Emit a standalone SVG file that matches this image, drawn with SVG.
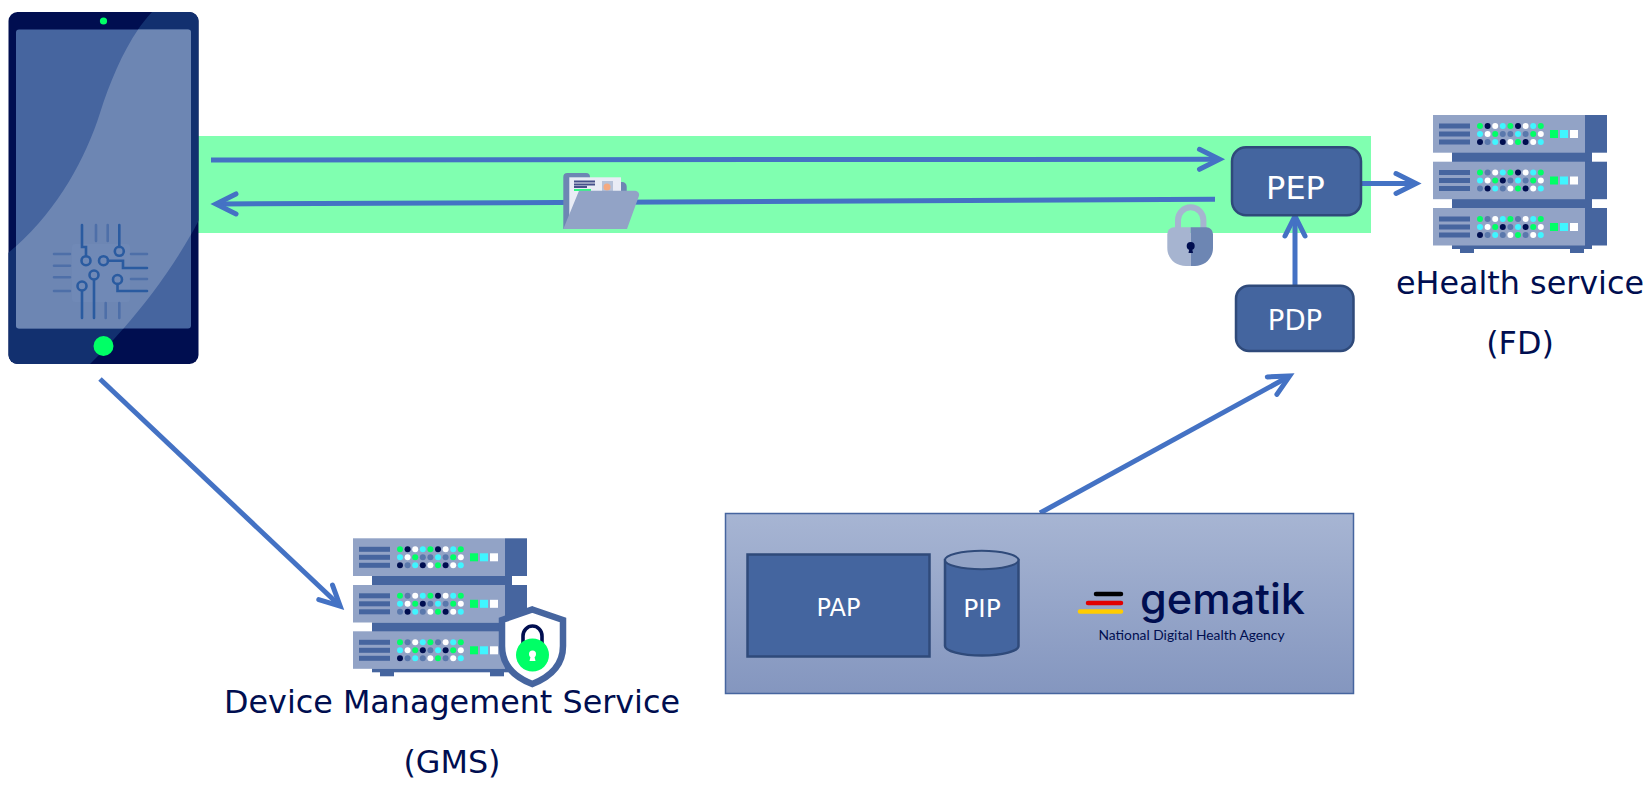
<svg xmlns="http://www.w3.org/2000/svg" xmlns:xlink="http://www.w3.org/1999/xlink" width="1650" height="790" viewBox="0 0 1650 790">
<style>
text{font-family:"DejaVu Sans",Verdana,sans-serif}
.lbl{font-size:31.8px;fill:#000e50;text-anchor:middle}
.wt{fill:#fff;text-anchor:middle}
.conn{fill:none;stroke:#4472c4;stroke-width:5}
.box{fill:#44659f;stroke:#2f4a7a;stroke-width:2.5}
.g{fill:#00ff66}.n{fill:#000e50}.w{fill:#fff}.c{fill:#40f5ff}.b{fill:#5a78ac}
.blade{fill:#92a3c6}.dk{fill:#46659f}
.hi{fill:none;stroke:#2a5ba0;stroke-width:2.6;stroke-linecap:round}
.lo{fill:none;stroke:#4e6fa8;stroke-width:2.6;stroke-linecap:round}
</style>
<defs>
<marker id="arrow" markerUnits="strokeWidth" markerWidth="8" markerHeight="8" viewBox="-6 -4 8 8" refX="-0.6" refY="0" orient="auto">
<path d="M-4,-2 L0,0 L-4,2" fill="none" stroke="#4472c4" stroke-width="1" stroke-linecap="round"/>
</marker>
<linearGradient id="pane" x1="0" y1="0" x2="0" y2="1"><stop offset="0" stop-color="#a7b5d3"/><stop offset="1" stop-color="#8496bf"/></linearGradient>
<clipPath id="tabletClip"><rect x="8.5" y="12" width="190" height="352" rx="9"/></clipPath>
<clipPath id="screenClip"><rect x="16" y="29.5" width="175" height="299" rx="3"/></clipPath>
<path id="curve" d="M152,12 C130,35 112,75 100,113 C85,160 55,215 8,253 V365 H89 C130,325 170,275 199,220 V12 Z"/>
<symbol id="server" overflow="visible" viewBox="0 0 174 140" width="174" height="140">
<rect x="19" y="37" width="140" height="10" class="dk"/>
<rect x="19" y="84" width="140" height="10" class="dk"/>
<rect x="19" y="130" width="140" height="4" class="dk"/>
<rect x="27" y="133" width="14" height="5" class="dk"/>
<rect x="137" y="133" width="14" height="5" class="dk"/>
<rect x="0" y="0" width="152" height="37.7" class="blade"/><rect x="152" y="0" width="22" height="37.7" class="dk"/>
<rect x="0" y="46.7" width="152" height="37.5" class="blade"/><rect x="152" y="46.7" width="22" height="37.5" class="dk"/>
<rect x="0" y="93" width="152" height="37.5" class="blade"/><rect x="152" y="93" width="22" height="37.5" class="dk"/>
<g class="dk">
<rect x="6" y="8.5" width="31" height="5"/><rect x="6" y="16.5" width="31" height="5"/><rect x="6" y="24.5" width="31" height="5"/>
<rect x="6" y="55" width="31" height="5"/><rect x="6" y="63" width="31" height="5"/><rect x="6" y="71" width="31" height="5"/>
<rect x="6" y="101.500" width="31" height="5"/><rect x="6" y="109.500" width="31" height="5"/><rect x="6" y="117.500" width="31" height="5"/>
</g>
<g id="dots1">
<circle cx="47" cy="11" r="3" class="g"/><circle cx="54.6" cy="11" r="3" class="n"/><circle cx="62.2" cy="11" r="3" class="w"/><circle cx="69.8" cy="11" r="3" class="c"/><circle cx="77.4" cy="11" r="3" class="g"/><circle cx="85" cy="11" r="3" class="n"/><circle cx="92.6" cy="11" r="3" class="w"/><circle cx="100.2" cy="11" r="3" class="c"/><circle cx="107.8" cy="11" r="3" class="g"/>
<circle cx="47" cy="19" r="3" class="c"/><circle cx="54.6" cy="19" r="3" class="w"/><circle cx="62.2" cy="19" r="3" class="g"/><circle cx="69.8" cy="19" r="3" class="b"/><circle cx="77.4" cy="19" r="3" class="b"/><circle cx="85" cy="19" r="3" class="c"/><circle cx="92.6" cy="19" r="3" class="b"/><circle cx="100.2" cy="19" r="3" class="g"/><circle cx="107.8" cy="19" r="3" class="w"/>
<circle cx="47" cy="27" r="3" class="n"/><circle cx="54.6" cy="27" r="3" class="b"/><circle cx="62.2" cy="27" r="3" class="c"/><circle cx="69.8" cy="27" r="3" class="n"/><circle cx="77.4" cy="27" r="3" class="w"/><circle cx="85" cy="27" r="3" class="g"/><circle cx="92.6" cy="27" r="3" class="n"/><circle cx="100.2" cy="27" r="3" class="w"/><circle cx="107.8" cy="27" r="3" class="c"/>
</g>
<g id="dots2">
<circle cx="47" cy="57.5" r="3" class="g"/><circle cx="54.6" cy="57.5" r="3" class="b"/><circle cx="62.2" cy="57.5" r="3" class="w"/><circle cx="69.8" cy="57.5" r="3" class="c"/><circle cx="77.4" cy="57.5" r="3" class="g"/><circle cx="85" cy="57.5" r="3" class="n"/><circle cx="92.6" cy="57.5" r="3" class="w"/><circle cx="100.2" cy="57.5" r="3" class="c"/><circle cx="107.8" cy="57.5" r="3" class="g"/>
<circle cx="47" cy="65.5" r="3" class="c"/><circle cx="54.6" cy="65.5" r="3" class="w"/><circle cx="62.2" cy="65.5" r="3" class="g"/><circle cx="69.8" cy="65.5" r="3" class="n"/><circle cx="77.4" cy="65.5" r="3" class="b"/><circle cx="85" cy="65.5" r="3" class="c"/><circle cx="92.6" cy="65.5" r="3" class="b"/><circle cx="100.2" cy="65.5" r="3" class="g"/><circle cx="107.8" cy="65.5" r="3" class="w"/>
<circle cx="47" cy="73.5" r="3" class="b"/><circle cx="54.6" cy="73.5" r="3" class="n"/><circle cx="62.2" cy="73.5" r="3" class="c"/><circle cx="69.8" cy="73.5" r="3" class="b"/><circle cx="77.4" cy="73.5" r="3" class="w"/><circle cx="85" cy="73.5" r="3" class="g"/><circle cx="92.6" cy="73.5" r="3" class="n"/><circle cx="100.2" cy="73.5" r="3" class="w"/><circle cx="107.8" cy="73.5" r="3" class="c"/>
</g>
<g id="dots3">
<circle cx="47" cy="104" r="3" class="g"/><circle cx="54.6" cy="104" r="3" class="b"/><circle cx="62.2" cy="104" r="3" class="w"/><circle cx="69.8" cy="104" r="3" class="c"/><circle cx="77.4" cy="104" r="3" class="g"/><circle cx="85" cy="104" r="3" class="b"/><circle cx="92.6" cy="104" r="3" class="w"/><circle cx="100.2" cy="104" r="3" class="c"/><circle cx="107.8" cy="104" r="3" class="g"/>
<circle cx="47" cy="112" r="3" class="c"/><circle cx="54.6" cy="112" r="3" class="w"/><circle cx="62.2" cy="112" r="3" class="g"/><circle cx="69.8" cy="112" r="3" class="n"/><circle cx="77.4" cy="112" r="3" class="b"/><circle cx="85" cy="112" r="3" class="c"/><circle cx="92.6" cy="112" r="3" class="n"/><circle cx="100.2" cy="112" r="3" class="g"/><circle cx="107.8" cy="112" r="3" class="w"/>
<circle cx="47" cy="120" r="3" class="n"/><circle cx="54.6" cy="120" r="3" class="b"/><circle cx="62.2" cy="120" r="3" class="c"/><circle cx="69.8" cy="120" r="3" class="b"/><circle cx="77.4" cy="120" r="3" class="w"/><circle cx="85" cy="120" r="3" class="g"/><circle cx="92.6" cy="120" r="3" class="b"/><circle cx="100.2" cy="120" r="3" class="w"/><circle cx="107.8" cy="120" r="3" class="c"/>
</g>
<rect x="117" y="15" width="8" height="8" class="g"/><rect x="127" y="15" width="8" height="8" class="c"/><rect x="137" y="15" width="8" height="8" class="w"/>
<rect x="117" y="61.5" width="8" height="8" class="g"/><rect x="127" y="61.5" width="8" height="8" class="c"/><rect x="137" y="61.5" width="8" height="8" class="w"/>
<rect x="117" y="108" width="8" height="8" class="g"/><rect x="127" y="108" width="8" height="8" class="c"/><rect x="137" y="108" width="8" height="8" class="w"/>
</symbol>
</defs>

<rect id="secure-channel" x="198" y="136" width="1173" height="97" fill="#80ffb0"/>

<g id="tablet">
<rect x="8.5" y="12" width="190" height="352" rx="9" fill="#000e50"/>
<use xlink:href="#curve" href="#curve" fill="#12306f" clip-path="url(#tabletClip)"/>
<rect x="16" y="29.5" width="175" height="299" rx="3" fill="#46659f"/>
<use xlink:href="#curve" href="#curve" fill="#6d86b3" clip-path="url(#screenClip)"/>
<circle cx="103.5" cy="21" r="3.6" fill="#00ff66"/>
<circle cx="103.5" cy="346" r="10" fill="#00ff66"/>
<rect x="72" y="244" width="58" height="58" rx="3" fill="#7089b6"/>
<path class="lo" d="M96,225V241M107.700,225V241M105.700,303V318M119.300,303V318M54,254H70M54,265.700H70M54,277.300H70M54,291H70M131,254H147M131,279H147"/>
<path class="hi" d="M82,225V247H86V256M119.300,225V247M108,260.700H123V268H147M94,280V318M82,291V318M117.500,284V291H147"/>
<circle class="hi" cx="86" cy="260.700" r="4.5"/><circle class="hi" cx="119.300" cy="251.300" r="4.5"/><circle class="hi" cx="103.500" cy="260.700" r="4.5"/><circle class="hi" cx="94" cy="275" r="4.5"/><circle class="hi" cx="82" cy="286" r="4.5"/><circle class="hi" cx="117.500" cy="279.500" r="4.5"/>
</g>

<g id="connectors">
<path class="conn" marker-end="url(#arrow)" d="M211,160L1216.500,159.300"/>
<path class="conn" marker-end="url(#arrow)" d="M1215,199.300L219,204"/>
<path class="conn" marker-end="url(#arrow)" d="M1361,183.500H1413"/>
<path class="conn" marker-end="url(#arrow)" d="M1295,287V219"/>
<path class="conn" marker-end="url(#arrow)" d="M100,379L338,604"/>
<path class="conn" marker-end="url(#arrow)" d="M1040,513L1287,377.500"/>
</g>

<g id="folder">
<path d="M563.300,229V177a4,4 0 0 1 4,-4H586a4,4 0 0 1 4,4v5H622a4.500,4.500 0 0 1 4.700,4.500V229Z" fill="#6d86b3"/>
<rect x="569.300" y="177.300" width="51.700" height="40" fill="#e9ecf5"/>
<path d="M574,181.500H595M574,184.500H595M574,187H587" stroke="#46508a" stroke-width="1.800" fill="none"/>
<path d="M574,190H591" stroke="#00ff66" stroke-width="1.600" fill="none"/>
<rect x="602" y="181" width="11" height="10" fill="#b6c2d8"/>
<circle cx="607" cy="187" r="3.500" fill="#f5a97f"/>
<path d="M579,190.700H635a4,4 0 0 1 4,5L627,229H563.300Z" fill="#92a3c6"/>
</g>

<g id="padlock">
<path d="M1178,232V220a12.700,12.700 0 0 1 25.400,0V232" fill="none" stroke="#a6b4d0" stroke-width="6"/>
<path d="M1174,227.300H1190.700V266H1186C1175,266 1167.300,258 1167.300,248V234A6.700,6.700 0 0 1 1174,227.300Z" fill="#a6b4d0"/>
<path d="M1190.700,227.300H1206.300A6.700,6.700 0 0 1 1213,234V248C1213,258 1205,266 1195,266H1190.700Z" fill="#6d86b3"/>
<circle cx="1190.700" cy="246" r="4" fill="#000e50"/><path d="M1189.500,248H1192L1193,253H1188.500Z" fill="#000e50"/>
</g>

<g id="pep"><rect class="box" x="1232" y="147.300" width="129" height="68" rx="14"/><text class="wt" x="1295.500" y="199" font-size="32">PEP</text></g>
<g id="pdp"><rect class="box" x="1236" y="285.700" width="117.500" height="65.300" rx="13"/><text class="wt" x="1295" y="329.500" font-size="27.500">PDP</text></g>

<g id="ehealth-service">
<use xlink:href="#server" href="#server" x="1433" y="115" width="174" height="140"/>
<text class="lbl" x="1520" y="294">eHealth service</text>
<text class="lbl" x="1520" y="354">(FD)</text>
</g>

<g id="gms">
<use xlink:href="#server" href="#server" x="353" y="538.300" width="174" height="140"/>
<path d="M532.300,609.500L563,620V646C563,665 550,677 532.300,684C514,677 502,665 502,646V620Z" fill="#fff" stroke="#46659f" stroke-width="6.500" stroke-linejoin="miter"/>
<path d="M523,650V636a9.500,10 0 0 1 19,0V650" fill="none" stroke="#000e50" stroke-width="3.600"/>
<circle cx="532.500" cy="655" r="16.500" fill="#00ff66"/>
<circle cx="532.500" cy="654" r="3.500" fill="#fff"/><path d="M531,655H534L535.500,661H529.500Z" fill="#fff"/>
<text class="lbl" x="452" y="713">Device Management Service</text>
<text class="lbl" x="452" y="773">(GMS)</text>
</g>

<g id="policy-pane">
<rect x="725.500" y="513.500" width="628" height="180" fill="url(#pane)" stroke="#46659f" stroke-width="1.500"/>
<g id="pap"><rect class="box" x="747.500" y="554.500" width="182" height="102"/><text class="wt" x="838.500" y="615.500" font-size="24">PAP</text></g>
<g id="pip">
<path class="box" d="M945,560V646C945,651 961,655.500 982,655.500C1003,655.500 1018.500,651 1018.500,646V560Z"/>
<ellipse cx="981.700" cy="560" rx="36.700" ry="9.300" fill="#92a3c6" stroke="#2f4a7a" stroke-width="2"/>
<text class="wt" x="982" y="616.500" font-size="25">PIP</text>
</g>
<g id="gematik-logo">
<path d="M1096,594H1121" stroke="#000" stroke-width="4.500" stroke-linecap="round"/>
<path d="M1088,603H1121" stroke="#e10000" stroke-width="4.500" stroke-linecap="round"/>
<path d="M1080,611.500H1121" stroke="#ffcc00" stroke-width="4.500" stroke-linecap="round"/>
<text x="1140" y="613.500" font-size="42" font-weight="500" fill="#000e50" textLength="165" lengthAdjust="spacingAndGlyphs" style="font-family:Inter,sans-serif;font-variant-ligatures:none">gematik</text>
<text x="1098.500" y="640" font-size="14" fill="#000e50" textLength="186" lengthAdjust="spacingAndGlyphs" style="font-family:Lato,sans-serif">National Digital Health Agency</text>
</g>
</g>
</svg>
